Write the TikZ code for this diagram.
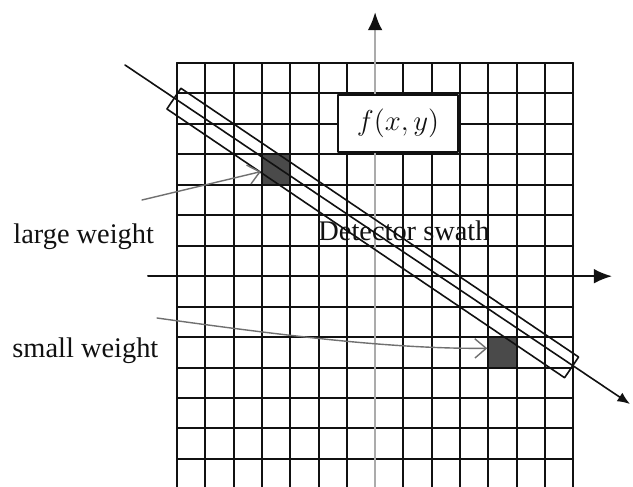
\documentclass[tikz,border=0pt]{standalone}
\usepackage{fontspec}
\setmainfont{Liberation Serif}
\usepackage{tikz}
\usetikzlibrary{arrows.meta,positioning}
\definecolor{swInk}{HTML}{111111}
\definecolor{swAxis}{HTML}{ABABAB}
\definecolor{swCell}{HTML}{4A4A4A}
\definecolor{swPointer}{HTML}{707070}
\tikzset{
  sw diagram/.style={x=0.5pt, y=-0.5pt, font=\fontsize{14.2}{17}\selectfont,
    text=swInk, line cap=round, line join=round},
  sw grid/.style={draw=swInk, line width=1pt},
  sw axis/.style={-{Latex[length=3.2mm,width=2.6mm]}, draw=swInk, line width=1pt},
  sw y axis/.style={-{Latex[length=3.2mm,width=2.6mm,color=swInk]}, draw=swAxis,
    line width=1.3pt},
  sw cell/.style={draw=swInk, fill=swCell, line width=1pt, inner sep=0pt,
    minimum width=14.15pt, minimum height=15.2pt},
  sw swath/.style={draw=swInk, line width=0.8pt, inner sep=0pt, rotate=-34.05,
    minimum width=240pt, minimum height=12.5pt},
  sw fbox/.style={draw=swInk, fill=white, line width=1pt, inner sep=0pt,
    minimum width=60pt, minimum height=28.5pt},
  sw pointer/.style={-{Straight Barb[length=2mm,width=3.4mm]}, draw=swPointer,
    line width=0.7pt},
  sw ray/.style={-{Latex[length=2.2mm,width=1.8mm]}, draw=swInk, line width=0.8pt},
  sw label/.style={anchor=base west, inner sep=0pt}
}
\begin{document}
\begin{tikzpicture}[sw diagram]
\useasboundingbox[fill=white] (0,0) rectangle (633,487);
\clip (0,0) rectangle (633,487);
% sampling grid
\foreach \i in {0,...,6,8,9,...,14}
  \draw[sw grid] ({177+\i*28.3},63) -- ({177+\i*28.3},490);
\foreach \j in {0,...,13}
  \draw[sw grid] (177,{63+\j*30.45}) -- (573.2,{63+\j*30.45});
% axes
\coordinate (ybot) at (375.1,490);
\coordinate (ytop) at (375.1,12);
\coordinate (xleft) at (148,276.2);
\coordinate (xright) at (612,276.2);
\draw[sw y axis] (ybot) -- (ytop);
\draw[sw axis] (xleft) -- (xright);
% weighted cells
\node[sw cell] (big) at (276.05,169.6) {};
\node[sw cell] (small) at (502.45,352.3) {};
% detector swath and ray
\node[sw swath] (swath) at (372.75,233) {};
\coordinate (rayA) at (125,65);
\coordinate (rayB) at (630,404);
\draw[sw ray] (rayA) -- (rayB);
\node[sw fbox] (fxy) at (398,123.5) {$f(x,y)$};
\node[sw label] (det) at (318,240) {Detector swath};
% weights
\node[sw label] (large) at (13,243) {large weight};
\node[sw label] (smallw) at (12,357) {small weight};
\coordinate (lwtail) at (142,200);
\coordinate (swtail) at (157,318);
\draw[sw pointer] (lwtail) -- ([yshift=-1pt]big.west);
\draw[sw pointer] (swtail) .. controls (300,338) and (400,349) .. ([yshift=2pt]small.west);
\end{tikzpicture}
\end{document}
